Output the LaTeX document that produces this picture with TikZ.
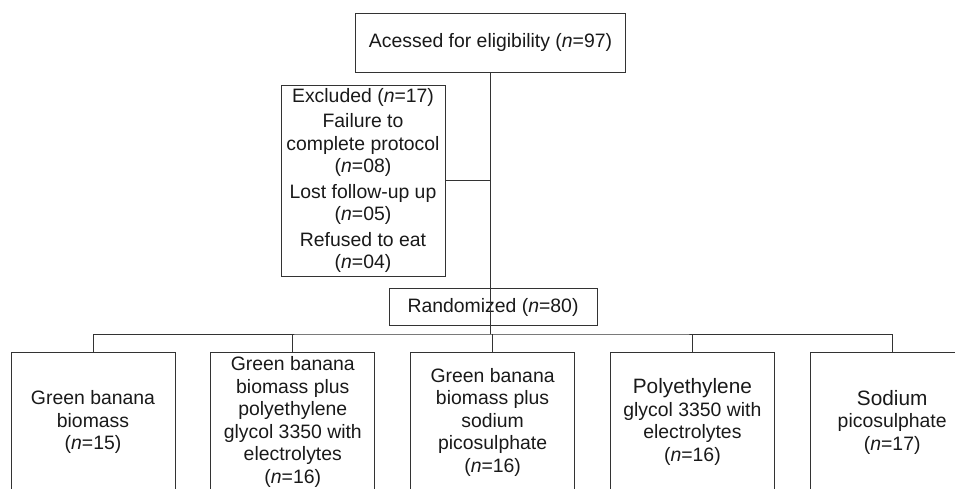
\documentclass[tikz,border=0pt]{standalone}
\usepackage{fontspec}
\setmainfont{Liberation Sans}
\usetikzlibrary{positioning}
\newcommand{\bigline}{\fontsize{20.8}{22.5}\selectfont}

\begin{document}
\begin{tikzpicture}[
    x=1pt, y=-1pt,
    % Box styles
    stage/.style={draw=black!80, line width=0.8pt, text=black!90, align=center,
        inner sep=0pt, font=\fontsize{19.4}{22.5}\selectfont},
    arm/.style={stage, minimum width=164pt, minimum height=140pt},
    % Connector style
    link/.style={draw=black!80, line width=0.8pt},
]

% Frame of the (cropped) figure
\useasboundingbox (0,0) rectangle (955,489);
\clip (0,0) rectangle (955,489);

% Enrolment boxes
\node[stage, minimum width=270pt, minimum height=59pt] (assessed) at (490.5,42.7)
    {Acessed for eligibility (\textit{n}=97)};
\node[stage, minimum width=164pt, minimum height=191pt] (excluded) at (363,180.5)
    {Excluded (\textit{n}=17)\\[3pt]
     Failure to\\complete protocol\\(\textit{n}=08)\\[3pt]
     Lost follow-up up\\(\textit{n}=05)\\[3pt]
     Refused to eat\\(\textit{n}=04)};
\node[stage, minimum width=208pt, minimum height=37.5pt] (random) at (493,307)
    {Randomized (\textit{n}=80)};

% Allocation arms
\node[arm] (arm1) at (93,422) {Green banana\\biomass\\(\textit{n}=15)};
\node[arm, right=35pt of arm1] (arm2) {Green banana\\biomass plus\\polyethylene\\glycol 3350 with\\electrolytes\\(\textit{n}=16)};
\node[arm, right=35pt of arm2] (arm3) {Green banana\\biomass plus\\sodium\\picosulphate\\(\textit{n}=16)};
\node[arm, right=35pt of arm3] (arm4) {{\bigline Polyethylene}\\glycol 3350 with\\electrolytes\\(\textit{n}=16)};
\node[arm, right=35pt of arm4] (arm5) {{\bigline Sodium}\\picosulphate\\(\textit{n}=17)};

% Connectors
\coordinate (bus) at (assessed.south |- 0,334);
\draw[link] (assessed.south) -- (bus);
\draw[link] (excluded.east) -- (excluded.east -| assessed.south);
\draw[link] (arm1.north) |- (bus) -| (arm5.north);
\draw[link] (arm2.north) -- (arm2.north |- bus);
\draw[link] (arm3.north) -- (arm3.north |- bus);
\draw[link] (arm4.north) -- (arm4.north |- bus);

\end{tikzpicture}
\end{document}
